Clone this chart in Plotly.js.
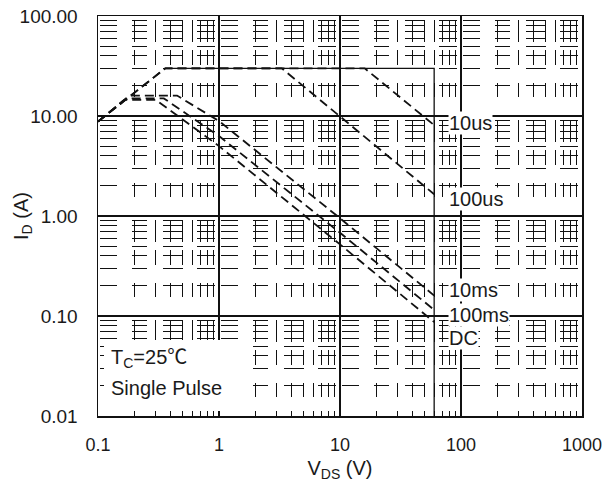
<!DOCTYPE html>
<html>
<head>
<meta charset="utf-8">
<script src="https://cdn.plot.ly/plotly-3.0.1.min.js"></script>
<style>html,body{margin:0;padding:0;background:#fff;}#chart{width:613px;height:482px;}</style>
</head>
<body>
<div id="chart"></div>
<script>
// ---- data ----
const V_10us  = [0.1, 0.36, 16, 60];
const I_10us  = [8.8, 30, 30, 8.1];
const V_100us = [0.1, 0.36, 3.3, 60];
const I_100us = [8.8, 30, 30, 1.65];
const V_10ms  = [0.1, 0.185, 0.45, 1, 10, 60];
const I_10ms  = [8.8, 16, 16, 8.9, 0.95, 0.16];
const V_100ms = [0.1, 0.17, 0.35, 1, 10, 60];
const I_100ms = [8.8, 15, 15, 6.3, 0.68, 0.115];
const V_DC    = [0.1, 0.165, 0.3, 1, 10, 60];
const I_DC    = [8.8, 14.5, 14.5, 5.0, 0.52, 0.087];
const V_limit = [0.36, 60, 60];
const I_limit = [30, 30, 0.01];

const curveNames = ["10us", "100us", "10ms", "100ms", "DC"];
const xTickVals = [0.1, 1, 10, 100, 1000];
const xTickText = ["0.1", "1", "10", "100", "1000"];
const yTickVals = [0.01, 0.1, 1, 10, 100];
const yTickText = ["0.01", "0.10", "1.00", "10.00", "100.00"];

function minorVals(lo, hi) {
  const out = [];
  for (let d = lo; d < hi; d++) for (let k = 2; k <= 9; k++) out.push(k * Math.pow(10, d));
  return out;
}

const FONT = "Liberation Sans, Arial, sans-serif";
const TXT = "#1a1a1a";
const dashLine = {color: "#111", width: 1.8, dash: "9px,5px"};

const series = [[V_10us, I_10us], [V_100us, I_100us], [V_10ms, I_10ms], [V_100ms, I_100ms], [V_DC, I_DC]];
const traces = [{
  x: V_limit, y: I_limit, mode: "lines", type: "scatter",
  line: {color: "#111", width: 1.3}, hoverinfo: "skip", showlegend: false
}];
series.forEach((s, i) => traces.push({
  x: s[0], y: s[1], mode: "lines", type: "scatter", name: curveNames[i],
  line: dashLine, showlegend: false
}));

const labelX = 1.893; // log10 position of label left edge
const ann = [
  {text: "10us", y: 0.935},
  {text: "100us", y: 0.17},
  {text: "10ms", y: -0.735},
  {text: "100ms", y: -0.985},
  {text: "DC", y: -1.215}
].map(a => ({
  x: labelX, y: a.y, xref: "x", yref: "y", text: a.text, showarrow: false,
  xanchor: "left", yanchor: "middle", bgcolor: "#fff", borderpad: 0,
  font: {family: FONT, size: 20, color: TXT}
}));
ann.push({
  x: -0.91, y: -1.40, xref: "x", yref: "y", showarrow: false,
  text: "T<sub>C</sub>=25<span style=\"font-family:'Noto Sans CJK SC'\">\u2103</span>",
  xanchor: "left", yanchor: "middle", font: {family: FONT, size: 20, color: TXT}
});
ann.push({
  x: -0.91, y: -1.72, xref: "x", yref: "y", showarrow: false,
  text: "Single Pulse", xanchor: "left", yanchor: "middle",
  font: {family: FONT, size: 20, color: TXT}
});
// y-axis title, drawn as rotated text
ann.push({
  x: -0.157, y: 0.5, xref: "paper", yref: "paper", showarrow: false,
  text: "I<sub>D</sub> (A)", textangle: -90, xanchor: "center", yanchor: "middle",
  font: {family: FONT, size: 20, color: TXT}
});

const layout = {
  width: 613, height: 482,
  margin: {l: 98, r: 31, t: 16, b: 66},
  paper_bgcolor: "#fff", plot_bgcolor: "#fff",
  font: {family: FONT, size: 18, color: TXT},
  showlegend: false,
  xaxis: {
    type: "log", range: [-1, 3], tickmode: "array", tickvals: xTickVals, ticktext: xTickText,
    showgrid: true, gridcolor: "#111", gridwidth: 1.2, zeroline: false,
    showline: true, linecolor: "#111", linewidth: 1.5, mirror: true,
    ticks: "", ticklabelstandoff: 12,
    tickfont: {family: FONT, size: 18, color: TXT},
    minor: {tickmode: "array", tickvals: minorVals(-1, 3), showgrid: true, gridcolor: "#111",
            gridwidth: 1.1, griddash: "0px,4px,22px,8px,15px,18px,14px,19px",
            ticks: "inside", ticklen: 5, tickcolor: "#111", tickwidth: 1},
    title: {text: "V<sub>DS</sub> (V)", font: {family: FONT, size: 20, color: TXT}, standoff: 22}
  },
  yaxis: {
    type: "log", range: [-2, 2], tickmode: "array", tickvals: yTickVals, ticktext: yTickText,
    showgrid: true, gridcolor: "#111", gridwidth: 1.2, zeroline: false,
    showline: true, linecolor: "#111", linewidth: 1.5, mirror: true,
    ticks: "", ticklabelstandoff: 15,
    tickfont: {family: FONT, size: 19, color: TXT},
    minor: {tickmode: "array", tickvals: minorVals(-2, 2), showgrid: true, gridcolor: "#111",
            gridwidth: 1.1, griddash: "0px,2px,17px,15px,15px,16px,20px,14px,18px,4px",
            ticks: "", ticklen: 0}
  },
  shapes: [{
    type: "rect", xref: "paper", yref: "paper", layer: "above",
    x0: (104 - 98) / 484, x1: (238 - 98) / 484, y0: 5 / 400, y1: 76 / 400,
    fillcolor: "#fff", line: {width: 0}
  }],
  annotations: ann
};

Plotly.newPlot("chart", traces, layout, {staticPlot: true, displayModeBar: false});
</script>
</body>
</html>
